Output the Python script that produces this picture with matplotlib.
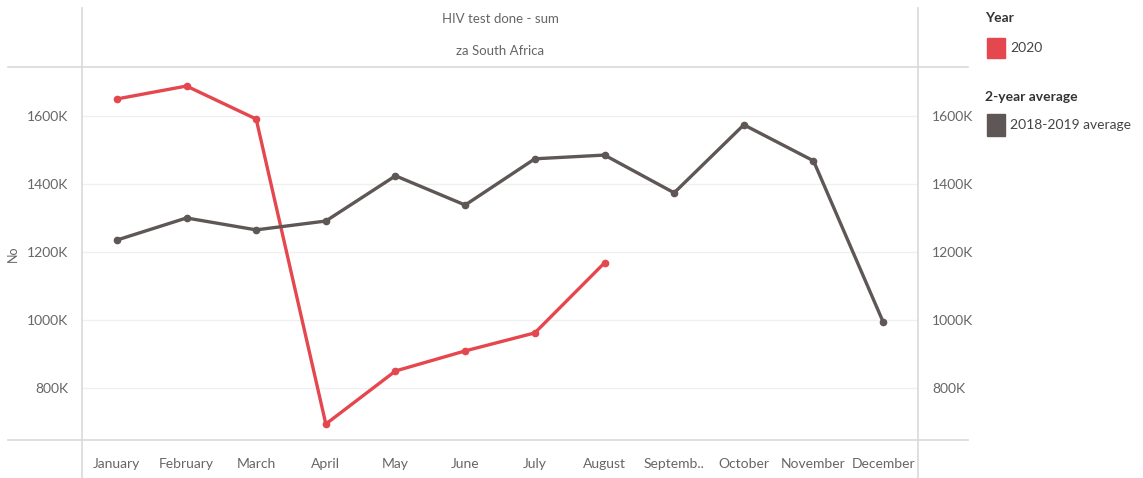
import matplotlib
matplotlib.use("Agg")
import matplotlib.pyplot as plt
from matplotlib.lines import Line2D
from matplotlib.patches import Rectangle
from matplotlib.ticker import FuncFormatter

months = ["January", "February", "March", "April", "May", "June", "July",
          "August", "Septemb..", "October", "November", "December"]
values_2020 = [1650, 1688, 1591, 694, 850, 909, 962, 1168]
values_avg = [1235, 1300, 1265, 1291, 1424, 1338, 1474, 1485, 1374, 1574, 1468, 994]
yticks = [800, 1000, 1200, 1400, 1600]

RED = "#e5474e"
GRAY = "#5f5656"
TXT = "#666666"
LINE = "#d9d9d9"
plt.rcParams["font.family"] = ["Lato", "DejaVu Sans"]

W, H = 1143, 478
fig = plt.figure(figsize=(W / 100, H / 100), dpi=100)

x0, x1, yt, yb = 82, 918, 67, 440
ax = fig.add_axes([x0 / W, 1 - yb / H, (x1 - x0) / W, (yb - yt) / H])
ax.set_xlim(-0.5, 11.5)
ax.set_ylim(647, 1744)

xs = list(range(len(months)))
ax.plot(xs[:len(values_2020)], values_2020, color=RED, lw=2.4, marker="o", ms=4.5, zorder=3)
ax.plot(xs, values_avg, color=GRAY, lw=2.4, marker="o", ms=4.5, zorder=3)

for s in ax.spines.values():
    s.set_visible(False)
ax.set_yticks(yticks)
ax.yaxis.set_major_formatter(FuncFormatter(lambda v, p: f"{int(v)}K"))
ax.tick_params(axis="y", length=0, labelsize=10, labelcolor=TXT, pad=10,
               labelright=True, labelleft=True)
ax.grid(axis="y", color="#f0f0f0", lw=1)
ax.set_xticks(xs)
ax.set_xticklabels(months)
ax.tick_params(axis="x", length=0, labelsize=10, labelcolor=TXT, pad=13)
ax.set_ylabel("No", color=TXT, fontsize=9)
ax.yaxis.set_label_coords(-0.075, 0.5)

# frame lines (Tableau style)
def hline(y, xa, xb):
    fig.add_artist(Line2D([xa / W, xb / W], [1 - y / H, 1 - y / H], color=LINE, lw=1.2))

def vline(x, ya, yb_):
    fig.add_artist(Line2D([x / W, x / W], [1 - ya / H, 1 - yb_ / H], color=LINE, lw=1.2))

hline(67, 8, 968)
hline(440, 8, 968)
vline(82, 8, 478)
vline(918, 8, 478)

fig.text((x0 + x1) / 2 / W, 1 - 19 / H, "HIV test done - sum", ha="center", va="center",
         fontsize=9.5, color=TXT)
fig.text((x0 + x1) / 2 / W, 1 - 51 / H, "za South Africa", ha="center", va="center",
         fontsize=9.5, color=TXT)

# legend
fig.text(985 / W, 1 - 18 / H, "Year", ha="left", va="center", fontsize=10,
         color="#333333", fontweight="bold")
fig.add_artist(Rectangle((987 / W, 1 - 58 / H), 18 / W, 20 / H, color=RED,
                         transform=fig.transFigure))
fig.text(1010 / W, 1 - 48 / H, "2020", ha="left", va="center", fontsize=10, color="#444444")
fig.text(985 / W, 1 - 97 / H, "2-year average", ha="left", va="center", fontsize=10,
         color="#333333", fontweight="bold")
fig.add_artist(Rectangle((987 / W, 1 - 136 / H), 18 / W, 22 / H, color=GRAY,
                         transform=fig.transFigure))
fig.text(1010 / W, 1 - 125 / H, "2018-2019 average", ha="left", va="center", fontsize=10,
         color="#444444")

fig.savefig("out.png", dpi=100)
